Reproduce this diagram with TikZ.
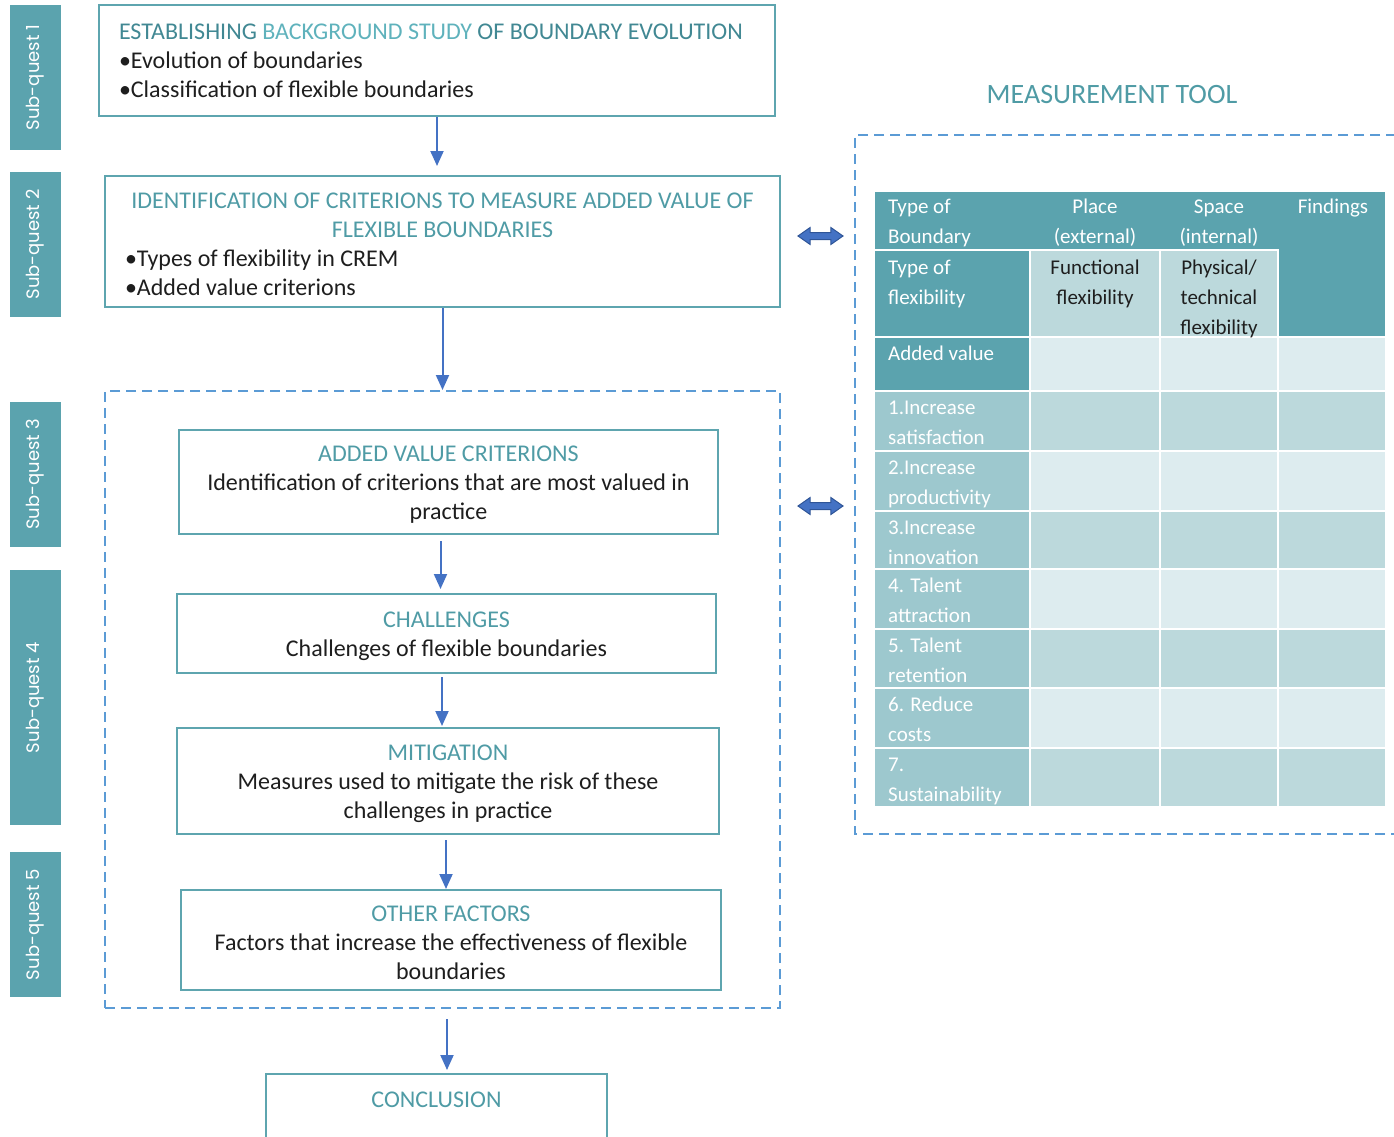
\documentclass[tikz,border=0pt]{standalone}
\usepackage{fontspec}
\setmainfont{Carlito}
\newfontfamily\sqfont{Poppins}
\usetikzlibrary{arrows.meta,shapes.arrows}

\definecolor{barcol}{HTML}{5BA3AE}
\definecolor{boxcol}{HTML}{5EA5AF}
\definecolor{titlecol}{HTML}{4F9BA5}
\definecolor{titledeep}{HTML}{418893}
\definecolor{titlelight}{HTML}{5FB2BC}
\definecolor{txtcol}{HTML}{1E1E1E}
\definecolor{dashcol}{HTML}{5B9BD5}
\definecolor{arrowcol}{HTML}{4472C4}
\definecolor{arrowdark}{HTML}{2F5597}
\definecolor{tabdark}{HTML}{5BA3AE}
\definecolor{tabmid}{HTML}{9DC8CE}
\definecolor{tablight}{HTML}{BCD9DC}
\definecolor{tabpale}{HTML}{DDECEF}

\newcommand{\stagetitle}[1]{\strut\textcolor{titlecol}{#1}}

\tikzset{
  sqbar/.style={fill=barcol, text=white, rotate=90, inner sep=0pt,
    minimum height=51pt, font=\sqfont\fontsize{18}{20}\selectfont},
  stagebox/.style={draw=boxcol, line width=2pt, inner xsep=20pt, inner ysep=0pt,
    text=txtcol, font=\fontsize{24}{29}\selectfont},
  groupframe/.style={draw=dashcol, line width=2pt, dash pattern=on 10pt off 6pt},
  flow/.style={draw=arrowcol, line width=2pt, -{Triangle[length=15pt,width=13pt]}},
  bothway/.style={double arrow, fill=arrowcol, draw=arrowdark, line width=1pt,
    inner sep=3pt, minimum height=45pt, double arrow head extend=5pt,
    double arrow tip angle=70},
  tabtxt/.style={font=\fontsize{21}{30}\selectfont, text=white, inner sep=0pt,
    align=left, anchor=base west},
  tabhead/.style={font=\fontsize{21}{30}\selectfont, text=white, inner sep=0pt,
    align=center, anchor=base},
}

\begin{document}
\begin{tikzpicture}[x=1pt,y=-1pt]
\useasboundingbox (0,0) rectangle (1394,1137);

% sub-question bars
\node[sqbar, minimum width=145pt] (sq1) at (35.5,77.5) {Sub-quest 1};
\node[sqbar, minimum width=145pt] (sq2) at (35.5,244.5) {Sub-quest 2};
\node[sqbar, minimum width=145pt] (sq3) at (35.5,474.5) {Sub-quest 3};
\node[sqbar, minimum width=255pt] (sq4) at (35.5,697.5) {Sub-quest 4};
\node[sqbar, minimum width=145pt] (sq5) at (35.5,924.5) {Sub-quest 5};

% research steps
\node[stagebox, minimum width=676pt, minimum height=111pt, text width=636pt, align=flush left]
  (bg) at (437,60.5) {\textcolor{titledeep}{ESTABLISHING} \textcolor{titlelight}{BACKGROUND STUDY}
  \textcolor{titledeep}{OF BOUNDARY EVOLUTION}\\
  •Evolution of boundaries\\
  •Classification of flexible boundaries};
\node[stagebox, minimum width=675pt, minimum height=131pt, text width=635pt, align=flush left]
  (crit) at (442.5,241.5) {{\centering\stagetitle{IDENTIFICATION OF CRITERIONS TO MEASURE ADDED VALUE OF\\
  FLEXIBLE BOUNDARIES}\par}
  •Types of flexibility in CREM\\
  •Added value criterions};

\node[groupframe, minimum width=675pt, minimum height=617pt] (grp) at (442.5,699.5) {};

\node[stagebox, align=center, minimum width=539pt, minimum height=104pt] (val) at (448.5,482)
  {\stagetitle{ADDED VALUE CRITERIONS}\\ Identification of criterions that are most valued in\\ practice};
\node[stagebox, align=center, minimum width=539pt, minimum height=79pt] (chal) at (446.5,633.5)
  {\stagetitle{CHALLENGES}\\ Challenges of flexible boundaries};
\node[stagebox, align=center, minimum width=542pt, minimum height=106pt] (miti) at (448,781)
  {\stagetitle{MITIGATION}\\ Measures used to mitigate the risk of these\\ challenges in practice};
\node[stagebox, align=center, minimum width=540pt, minimum height=100pt] (fact) at (451,940)
  {\stagetitle{OTHER FACTORS}\\ Factors that increase the effectiveness of flexible\\ boundaries};

\node[stagebox, align=center, anchor=north, minimum width=341pt, inner ysep=18pt, text depth=70pt]
  (concl) at (436.5,1073) {\textcolor{titlecol}{CONCLUSION}};

\draw[flow, shorten >=9pt] (bg.south) -- (bg.south |- crit.north);
\draw[flow] (crit.south) -- (crit.south |- grp.north);
\draw[flow, shorten <=6pt, shorten >=4pt] ([xshift=-8pt]val.south) -- ([xshift=-8pt]val.south |- chal.north);
\draw[flow, shorten <=3pt, shorten >=1pt] ([xshift=-4.5pt]chal.south) -- ([xshift=-4.5pt]chal.south |- miti.north);
\draw[flow, shorten <=5pt] ([xshift=-2pt]miti.south) -- ([xshift=-2pt]miti.south |- fact.north);
\draw[flow, shorten <=10pt, shorten >=3pt] ([xshift=4.5pt]grp.south) -- ([xshift=4.5pt]grp.south |- concl.north);

% measurement tool
\node[font=\fontsize{28}{32}\selectfont, text=titlecol] (tooltl) at (1112,95) {MEASUREMENT TOOL};
\draw[groupframe] (1396,135) -| (855,834) -- (1396,834);
\node[bothway] (linkA) at (820.5,236) {};
\node[bothway] (linkB) at (820.5,506) {};

% table head
\fill[tabdark] (875,192) rectangle (1385,249);
\fill[tabdark] (1279,192) rectangle (1385,336);
\fill[tabdark] (875,251) rectangle (1029,336);
\fill[tablight] (1031,251) rectangle (1159,336);
\fill[tablight] (1161,251) rectangle (1277,336);
\fill[tabdark] (875,338) rectangle (1029,390);
\fill[tabpale] (1031,338) rectangle (1159,390);
\fill[tabpale] (1161,338) rectangle (1277,390);
\fill[tabpale] (1279,338) rectangle (1385,390);

% base anchor sits on the last line
\node[tabtxt] (hbound) at (888,243) {Type of\\Boundary};
\node[tabhead] (hplace) at (1095,243) {Place\\(external)};
\node[tabhead] (hspace) at (1219,243) {Space\\(internal)};
\node[tabhead] (hfind) at (1333,213) {Findings};
\node[tabtxt] (hflex) at (888,304) {Type of\\flexibility};
\node[tabhead, text=txtcol] (hfunc) at (1095,304) {Functional\\flexibility};
\node[tabhead, text=txtcol] (hphys) at (1219,334) {Physical/\\technical\\flexibility};
\node[tabtxt] (hadd) at (888,360) {Added value};

% criteria rows
\foreach \ya/\yb/\lineA/\lineB/\tone [count=\i] in {
  391/451/1.Increase/satisfaction/tablight,
  451/511/2.Increase/productivity/tabpale,
  511/569/3.Increase/innovation/tablight,
  569/629/4. Talent/attraction/tabpale,
  629/688/5. Talent/retention/tablight,
  688/748/6. Reduce/costs/tabpale,
  748/807/7./Sustainability/tablight}
{
  \fill[tabmid] (875,\ya+1) rectangle (1029,\yb-1);
  \fill[\tone] (1031,\ya+1) rectangle (1159,\yb-1);
  \fill[\tone] (1161,\ya+1) rectangle (1277,\yb-1);
  \fill[\tone] (1279,\ya+1) rectangle (1385,\yb-1);
  \node[tabtxt] (row\i) at (888,\ya+53) {\lineA\\\lineB};
}
\end{tikzpicture}
\end{document}
